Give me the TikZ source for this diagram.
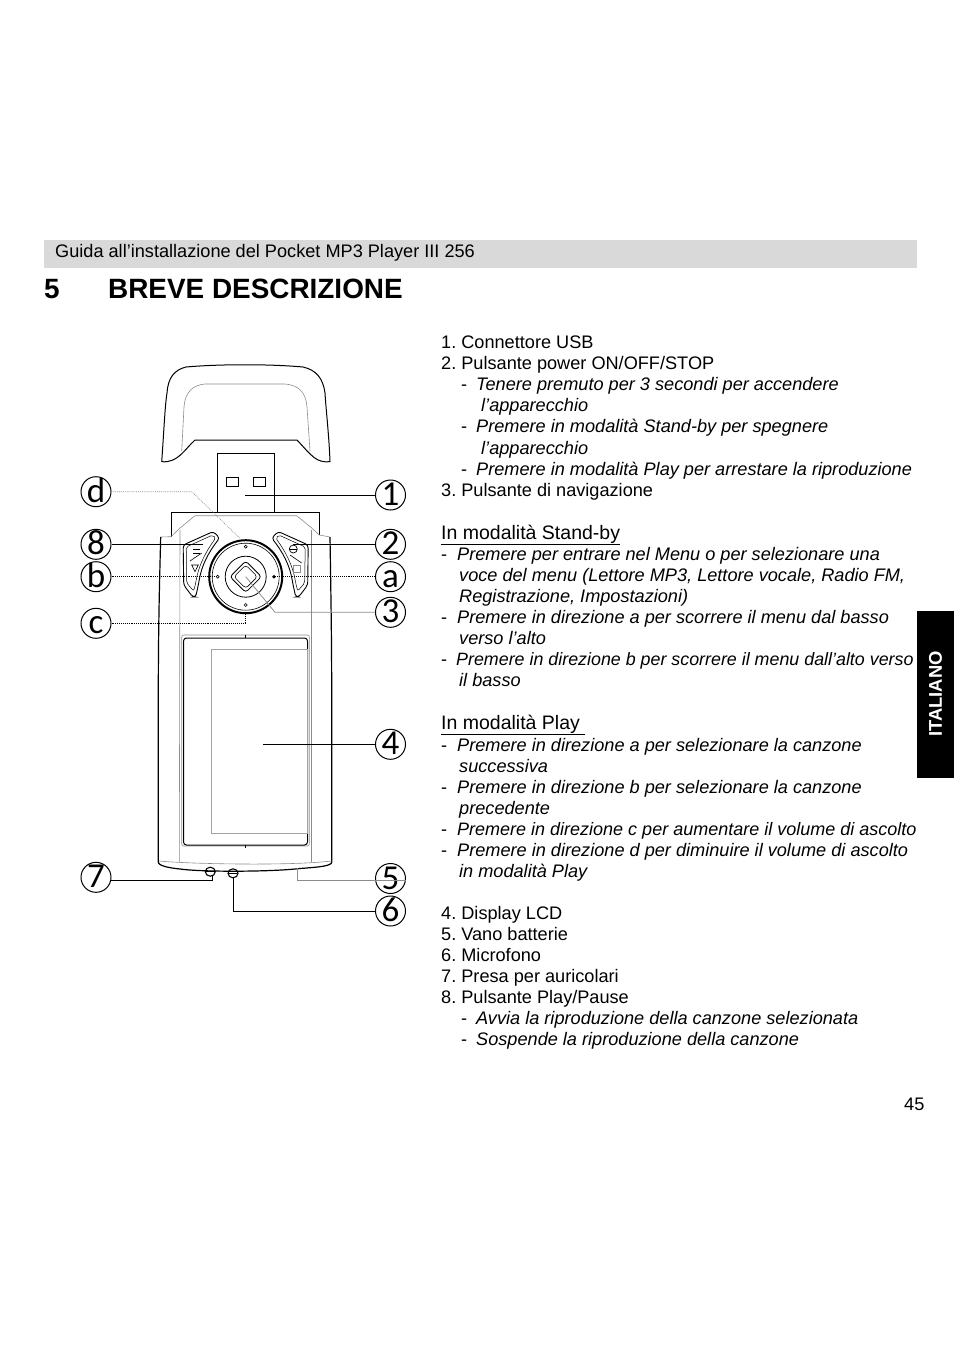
\documentclass[tikz,border=0pt]{standalone}
\usepackage{fontspec}
\setmainfont{Liberation Sans}
\newfontfamily\calloutfont{Carlito}
\usepackage{tikz}
\usetikzlibrary{calc}
\definecolor{bandgray}{gray}{0.85}
\definecolor{partgray}{gray}{0.55}
\tikzset{
  textline/.style={anchor=base west, inner sep=0pt, font=\fontsize{18.15}{21}\selectfont\frenchspacing},
  callout/.style={circle, draw, line width=1pt, minimum size=30pt, inner sep=0pt, text height=21pt, text depth=0pt, font=\fontsize{35}{35}\selectfont\calloutfont},
  leader/.style={line width=0.8pt},
  greyleader/.style={line width=0.8pt, draw=partgray},
  dotleader/.style={line width=0.9pt, densely dotted},
  thinpart/.style={line width=0.6pt, draw=partgray},
  thickpart/.style={line width=1.2pt},
}
\newcommand{\plainline}[4]{\node[textline] (#1) at ( #2 , #3 ) {#4};}
\newcommand{\italline}[4]{\node[textline] (#1) at ( #2 , #3 ) {\itshape #4};}
\newcommand{\dashline}[5]{\node[textline] (#1d) at ( #2 , #4 ) {-}; \node[textline] (#1) at ( #3 , #4 ) {\itshape #5};}
\newcommand{\calloutnode}[4]{\node[callout] (#1) at ( #2 , #3 ) {#4};}
\newcommand{\wheeldot}[2]{\draw[line width=0.6pt] ( #1 , #2 ) circle (1.5);}
\newcommand{\sublabel}[1]{\fontsize{19.5}{21}\selectfont\underline{#1}}
\begin{document}
\begin{tikzpicture}[x=1pt,y=-1pt]
        \useasboundingbox (0,0) rectangle (954,1351);

        % header and side tab
        \fill[bandgray] (44,240) rectangle (917,268);
        \plainline{head}{55}{257}{Guida all’installazione del Pocket MP3 Player III 256}
        \node[anchor=base west, inner sep=0pt, font=\fontsize{27.9}{30}\selectfont\bfseries] (titlenum) at (44,298) {5};
        \node[anchor=base west, inner sep=0pt, font=\fontsize{27.9}{30}\selectfont\bfseries] (title) at (108,298) {BREVE DESCRIZIONE};
        \fill[black] (917,611) rectangle (954,778);
        \node[rotate=90, text=white, inner sep=0pt, font=\fontsize{18.4}{20}\selectfont\bfseries] (tab) at (935.5,694) {ITALIANO};
        \plainline{page}{904}{1110}{45}

        % text column
        \plainline{a1}{441}{348}{1. Connettore USB}
        \plainline{a2}{441}{369}{2. Pulsante power ON/OFF/STOP}
        \dashline{a3}{461}{476}{390}{Tenere premuto per 3 secondi per accendere}
        \italline{a4}{481}{411}{l’apparecchio}
        \dashline{a5}{461}{476}{432}{Premere in modalità Stand-by per spegnere}
        \italline{a6}{481}{454}{l’apparecchio}
        \dashline{a7}{461}{476}{475}{Premere in modalità Play per arrestare la riproduzione}
        \plainline{a8}{441}{496}{3. Pulsante di navigazione}

        \plainline{b1}{441}{539}{\sublabel{In modalità Stand-by}}
        \dashline{b2}{441}{457}{560}{Premere per entrare nel Menu o per selezionare una}
        \italline{b3}{459}{581}{voce del menu (Lettore MP3, Lettore vocale, Radio FM,}
        \italline{b4}{459}{602}{Registrazione, Impostazioni)}
        \dashline{b5}{441}{457}{623}{Premere in direzione a per scorrere il menu dal basso}
        \italline{b6}{459}{644}{verso l’alto}
        \dashline{b7}{441}{456}{665}{\fontsize{17.85}{21}\selectfont Premere in direzione b per scorrere il menu dall’alto verso}
        \italline{b8}{459}{686}{il basso}

        \plainline{c1}{441}{729}{\sublabel{In modalità Play\ }}
        \dashline{c2}{441}{457}{751}{Premere in direzione a per selezionare la canzone}
        \italline{c3}{459}{772}{successiva}
        \dashline{c4}{441}{457}{793}{Premere in direzione b per selezionare la canzone}
        \italline{c5}{459}{814}{precedente}
        \dashline{c6}{441}{457}{835}{\fontsize{18}{21}\selectfont Premere in direzione c per aumentare il volume di ascolto}
        \dashline{c7}{441}{457}{856}{Premere in direzione d per diminuire il volume di ascolto}
        \italline{c8}{459}{877}{in modalità Play}

        \plainline{d1}{441}{919}{4. Display LCD}
        \plainline{d2}{441}{940}{5. Vano batterie}
        \plainline{d3}{441}{961}{6. Microfono}
        \plainline{d4}{441}{982}{7. Presa per auricolari}
        \plainline{d5}{441}{1003}{8. Pulsante Play/Pause}
        \dashline{d6}{461}{476}{1024}{Avvia la riproduzione della canzone selezionata}
        \dashline{d7}{461}{476}{1045}{Sospende la riproduzione della canzone}

        % hood
        \draw[line width=1pt] (161.7,461.7) .. controls (164,430) and (165,405) .. (167,393)
            .. controls (168,378) and (174,370) .. (186,367)
            .. controls (220,364) and (270,364) .. (303,367)
            .. controls (316,370) and (323,378) .. (325,393)
            .. controls (326,410) and (329,435) .. (330,461.7)
            .. controls (316,463) and (312,456) .. (297,440)
            -- (195,440) .. controls (184,450) and (178,463) .. (161.7,461.7);
        \draw[thinpart] (181.7,451) -- (184,407) .. controls (185,392) and (193,385) .. (205,384)
            -- (285,384) .. controls (298,385) and (306,392) .. (307,407) -- (310,451);

        % usb plug
        \draw[leader] (217.3,512.3) -- (217.3,453) -- (274,453) -- (274,512.3);
        \draw[leader] (226.7,477.3) rectangle (238.3,486);
        \draw[leader] (253.3,477.3) rectangle (265.3,486);
        \draw[leader] (171,536.7) -- (171,512.3) -- (319.3,512.3) -- (319.3,535);

        % body
        \draw[thinpart] (160.7,537) -- (171,536.7) -- (180,528) -- (195,515.7) -- (296.7,515.7) -- (311.7,528) -- (319.3,535) -- (330,537);
        \draw[thickpart] (160.7,537) .. controls (159,600) and (158.3,640) .. (158.3,700) -- (158.3,862)
            .. controls (158.3,866) and (170,868) .. (180,869)
            .. controls (200,872) and (270,872) .. (300,868.5)
            .. controls (320,867) and (331.7,866) .. (331.7,862)
            -- (331.7,700) .. controls (331.7,640) and (331,600) .. (330,537);
        \draw[thinpart] (159,861) .. controls (190,864) and (290,866) .. (331.7,861);
        \draw[thinpart] (180,530) -- (179.3,862);
        \draw[thinpart] (311.7,530) -- (311.7,862);

        % display
        \draw[thinpart, rounded corners=2pt] (181.7,635) rectangle (309.3,846);
        \draw[line width=1pt, rounded corners=3pt] (183.5,638) rectangle (307.5,845);
        \draw[leader] (245.7,635) -- (245.7,638);
        \draw[leader] (245.7,845) -- (245.7,848);
        \draw[line width=0.8pt, draw=partgray!80] (211.3,649.3) rectangle (307.3,833.3);

        % wheel
        \draw[line width=2pt] (245.7,576.7) circle (36.5);
        \draw[line width=0.6pt] (245.7,576.7) circle (33.5);
        \draw[line width=0.8pt] (245.7,576.7) circle (20.5);
        \draw[line width=0.8pt, rounded corners=3pt] (245.7,561) -- (261.4,576.7) -- (245.7,592.4) -- (230,576.7) -- cycle;
        \draw[line width=0.6pt, rounded corners=3pt] (245.7,565) -- (257.4,576.7) -- (245.7,588.4) -- (234,576.7) -- cycle;
        \wheeldot{245.7}{546.7}
        \wheeldot{245.7}{605}
        \wheeldot{217.7}{576.7}
        \fill (274,576.7) circle (1.8);

        % buttons
        \foreach \sidex/\sidename in {1/left, -1/right} {
          \begin{scope}[shift={(245.7,0)}, xscale=\sidex]
            \draw[line width=0.9pt, rounded corners=3pt] (-62.5,545) -- (-32.5,531.5) -- (-26,538) .. controls (-37,552) and (-44,565) .. (-47,583) -- (-50,597) -- (-53,597) -- (-62,585) -- cycle;
            \draw[line width=0.5pt, rounded corners=2pt] (-59.5,547) -- (-33,535) -- (-30,538) .. controls (-40,552) and (-47,565) .. (-50,583) -- (-52,591) -- (-59,583) -- cycle;
          \end{scope}
        }
        \draw[line width=0.6pt] (193,549) -- (200,549);
        \draw[line width=0.6pt] (193,553) -- (200,553);
        \draw[line width=0.6pt] (190,561) -- (201.7,553);
        \draw[line width=0.6pt] (191.7,565) -- (198.3,565) -- (195,571.7) -- cycle;
        \draw[line width=0.7pt] (293.3,549) circle (4);
        \draw[line width=0.6pt] (289.3,549) -- (297.3,549);
        \draw[line width=0.6pt] (290,555) -- (301.7,563);
        \draw[line width=0.5pt, draw=partgray] (293.3,565) rectangle (300.7,572.7);

        % jacks
        \draw[line width=1.1pt] (210.3,871.7) ellipse (5 and 4.5);
        \draw[line width=0.5pt] (206,871.7) -- (214.5,871.7);
        \draw[line width=1.1pt] (233,873.3) ellipse (5 and 4.5);
        \draw[line width=0.5pt] (229,873) -- (237,873);

        % callouts
        \calloutnode{nd}{96}{491.7}{d}
        \calloutnode{neight}{96}{544.3}{8}
        \calloutnode{nb}{96}{576.7}{b}
        \calloutnode{nc}{96}{623.3}{c}
        \calloutnode{nseven}{96}{877.3}{7}
        \calloutnode{none}{390.5}{495}{1}
        \calloutnode{ntwo}{390.5}{544.3}{2}
        \calloutnode{na}{390.5}{576.7}{a}
        \calloutnode{nthree}{390.5}{612.3}{3}
        \calloutnode{nfour}{390.5}{744.3}{4}
        \calloutnode{nfive}{390.5}{878.5}{5}
        \calloutnode{nsix}{390.5}{911}{6}

        % leaders
        \coordinate (tone) at (245,495);
        \coordinate (ttwo) at (293.3,544.3);
        \coordinate (teight) at (203.3,544.3);
        \coordinate (ta) at (274,576.7);
        \coordinate (tb) at (217.7,576.7);
        \coordinate (tc) at (245.7,613);
        \coordinate (tdbend) at (191.7,491.7);
        \coordinate (td) at (240,538.3);
        \coordinate (tthree) at (275,612.3);
        \coordinate (twheel) at (245.7,576.7);
        \coordinate (tfour) at (263.3,744.3);
        \coordinate (tfive) at (297.7,868.3);
        \coordinate (tsix) at (233.3,877.8);
        \coordinate (tseven) at (212.7,876);

        \draw[leader] (none) -- (tone);
        \draw[leader] (ntwo) -- (ttwo);
        \draw[leader] (neight) -- (teight);
        \draw[dotleader] (na) -- (ta);
        \draw[dotleader] (nb) -- (tb);
        \draw[dotleader] (nc.east) -| (tc);
        \draw[dotleader, line width=0.6pt, draw=partgray] (nd) -- (tdbend) -- (td);
        \draw[greyleader] (nthree) -- (tthree) -- (twheel);
        \draw[leader] (nfour) -- (tfour);
        \draw[greyleader] (nfive.-8) -| (tfive);
        \draw[leader] (nsix) -| (tsix);
        \draw[leader] (nseven.-10) -| (tseven);

\end{tikzpicture}
\end{document}
